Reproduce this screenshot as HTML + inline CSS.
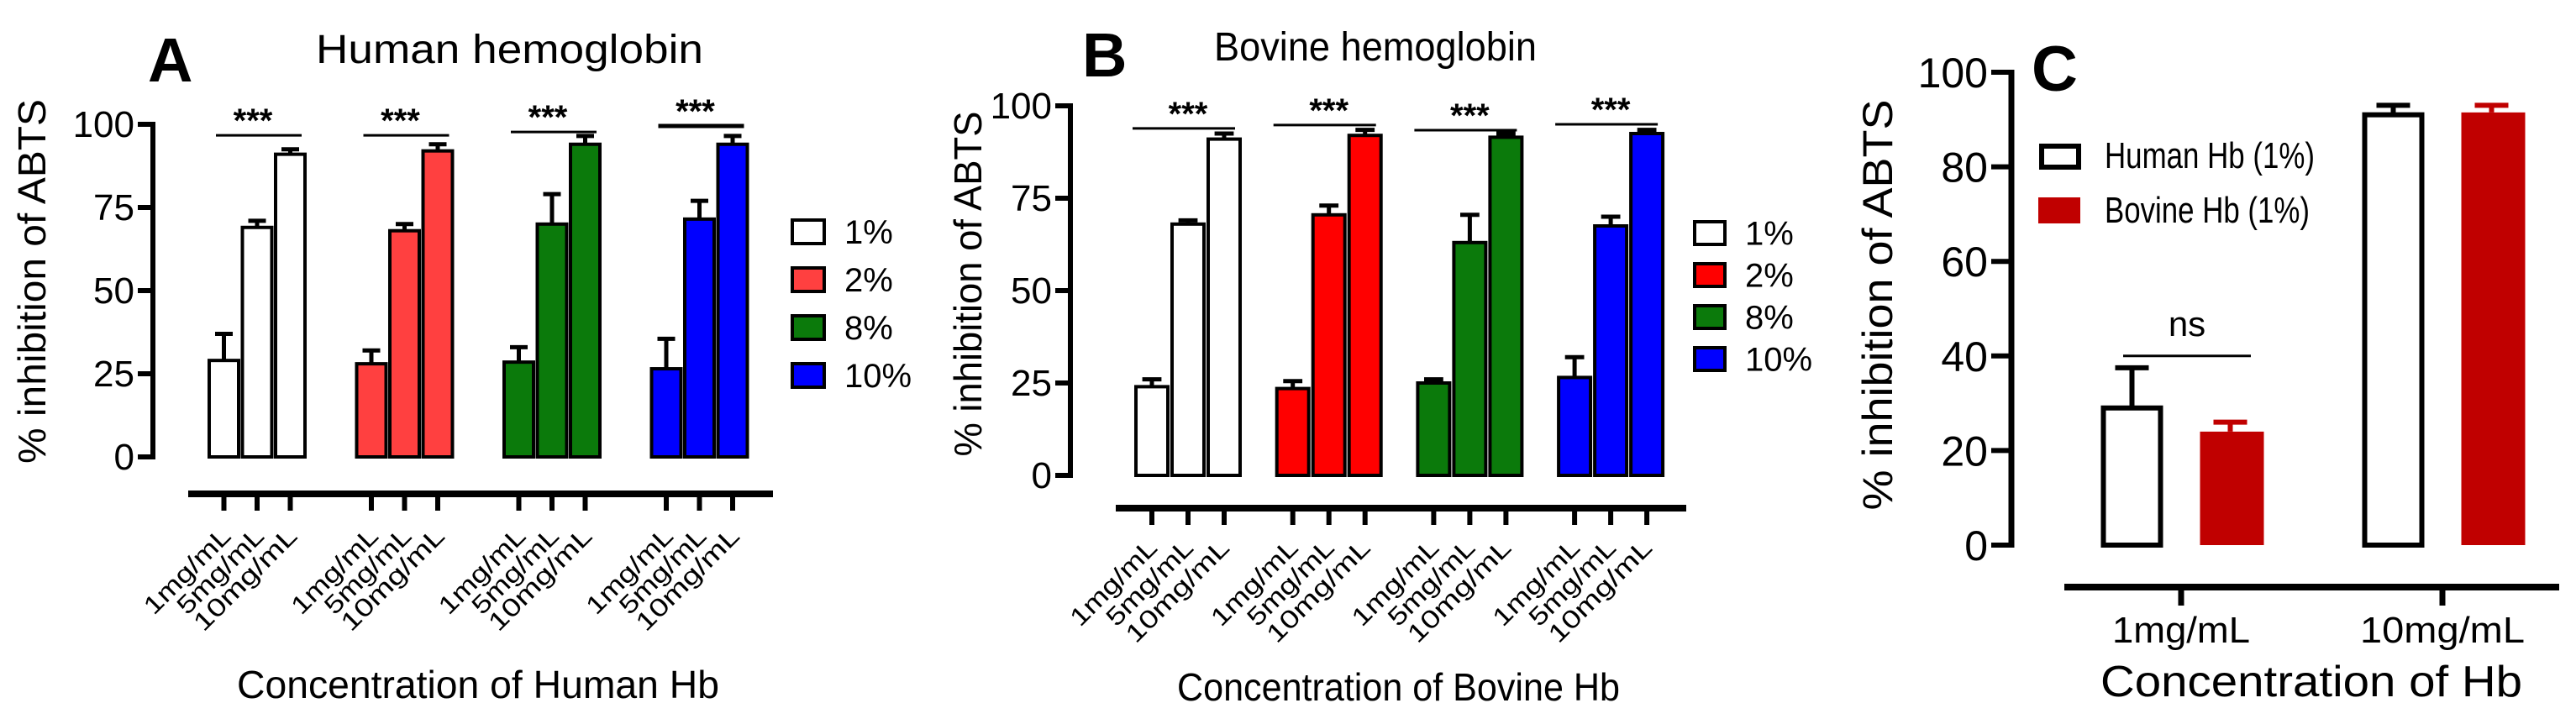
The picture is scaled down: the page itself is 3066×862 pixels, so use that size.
<!DOCTYPE html>
<html><head><meta charset="utf-8">
<style>
html,body{margin:0;padding:0;background:#fff;}
svg{display:block;font-family:"Liberation Sans",sans-serif;}
</style></head>
<body>
<svg id="fig" width="3066" height="862" viewBox="0 0 3066 862" xmlns="http://www.w3.org/2000/svg"></svg>
<script>
// ---- data ----
const groupLabels = ['1%','2%','8%','10%'];
const concLabels = ['1mg/mL','5mg/mL','10mg/mL'];
const abTicks = [0,25,50,75,100];
const cTicks = [0,20,40,60,80,100];
const aMeans = [[29,69,91],[28,68,92],[28.5,70,94],[26.5,71.5,94]];
const aErrs  = [[8,2,1.5],[4,2,2],[4.5,9,2.5],[9,5.5,2.5]];
const aSig   = [96.7,96.7,97.7,99.5];
const bMeans = [[24,68,91],[23.5,70.5,92],[25,63,91.5],[26.5,67.5,92.5]];
const bErrs  = [[2,1,1.5],[2,2.5,1.5],[1,7.5,1],[5.5,2.5,1]];
const bSig   = [93.9,94.8,93.4,95];
const cCats = ['1mg/mL','10mg/mL'];
const cSeries = ['Human Hb (1%)','Bovine Hb (1%)'];
const cHuman = [29,91];
const cHumanErr = [8.5,2];
const cBovine = [24,91.5];
const cBovineErr = [2,1.5];
const cSig = [40];

const NS='http://www.w3.org/2000/svg';
const svg=document.getElementById('fig');
function mk(tag,attrs,parent,text){
  const e=document.createElementNS(NS,tag);
  for(const k in attrs) e.setAttribute(k,attrs[k]);
  if(text!==undefined) e.textContent=text;
  (parent||svg).appendChild(e);
  return e;
}

function panelAB(cfg){
  const g=mk('g',{});
  
  
  const y=v=>cfg.y0-(cfg.y0-cfg.y100)*v/100;
  // panel letter & title
  let t=mk('text',{x:cfg.letterX,y:cfg.letterY,'font-size':74,'font-weight':'bold'},g,cfg.letter);
  
  
  t=mk('text',{x:cfg.titleX,y:cfg.titleY,'font-size':48,textLength:cfg.titleLen,lengthAdjust:'spacingAndGlyphs'},g,cfg.title);
  
  
  // y axis
  let l=mk('line',{x1:cfg.axX,x2:cfg.axX,y1:cfg.y100-3,y2:cfg.y0+3,stroke:'#000','stroke-width':6},g);
  
  
  abTicks.forEach(v=>{
    const tk=mk('line',{x1:cfg.axX-18,x2:cfg.axX,y1:y(v),y2:y(v),stroke:'#000','stroke-width':6},g);
    
    
    const tl=mk('text',{x:cfg.axX-22,y:y(v)+15,'font-size':44,'text-anchor':'end'},g,String(v));
    
    
  });
  t=mk('text',{x:0,y:0,'font-size':46,'text-anchor':'middle',textLength:cfg.ytLen,lengthAdjust:'spacingAndGlyphs',transform:`translate(${cfg.ytX},${cfg.ytY}) rotate(-90)`},g,'% inhibition of ABTS');
  
  
  // x axis
  l=mk('line',{x1:cfg.xaL,x2:cfg.xaR,y1:cfg.xaY,y2:cfg.xaY,stroke:'#000','stroke-width':8},g);
  
  
  cfg.means.forEach((grp,gi)=>{
    const gx=cfg.x0+gi*cfg.gp;
    grp.forEach((v,bi)=>{
      const bx=gx+bi*cfg.bp, cx=bx+cfg.bw/2;
      const top=y(v+cfg.errs[gi][bi]);
      const eb=mk('path',{d:`M${cx},${y(v)} V${top} M${cx-cfg.bw*0.3},${top} H${cx+cfg.bw*0.3}`,stroke:'#000','stroke-width':5,fill:'none'},g);
      
      
      const r=mk('rect',{x:bx,y:y(v),width:cfg.bw,height:cfg.y0-y(v),fill:cfg.colors[gi],stroke:'#000','stroke-width':4},g);
      
      
      const tk=mk('line',{x1:cx,x2:cx,y1:cfg.xaY,y2:cfg.xaY+20,stroke:'#000','stroke-width':6},g);
      
      
      const lx=cx+cfg.lblDx, ly=cfg.lblY;
      const tl=mk('text',{x:0,y:0,'font-size':30,'text-anchor':'end',textLength:cfg.lblLen[bi],lengthAdjust:'spacingAndGlyphs',transform:`translate(${lx},${ly}) rotate(-45)`},g,concLabels[bi]);
      
      
    });
    // significance
    const sy=y(cfg.sig[gi]);
    const sl=mk('line',{x1:gx+cfg.sigL,x2:gx+2*cfg.bp+cfg.bw+cfg.sigR,y1:sy,y2:sy,stroke:'#000','stroke-width':gi===3&&cfg.letter==='A'?5:3},g);
    
    
    const st=mk('text',{x:gx+cfg.bp+cfg.bw/2+cfg.starDx,y:sy-4,'font-size':40,'font-weight':'bold','text-anchor':'middle'},g,'***');
    
    
    // legend
    const lb=mk('rect',{x:cfg.legX,y:cfg.legY+gi*cfg.legDy,width:cfg.legW,height:cfg.legH,fill:cfg.colors[gi],stroke:'#000','stroke-width':4},g);
    
    
    const lt=mk('text',{x:cfg.legX+cfg.legW+24,y:cfg.legY+gi*cfg.legDy+cfg.legH/2+14,'font-size':40},g,groupLabels[gi]);
    
    
  });
  t=mk('text',{x:cfg.xtX,y:cfg.xtY,'font-size':46,textLength:cfg.xtLen,lengthAdjust:'spacingAndGlyphs'},g,cfg.xTitle);
  
  
}

panelAB({name:'panel-a-human',letter:'A',letterX:176,letterY:97,title:'Human hemoglobin',titleX:376,titleY:75,titleLen:461,
  axX:182,y0:544,y100:148,ytX:54,ytY:335,ytLen:434,
  xaL:224,xaR:920,xaY:588,x0:249,gp:175.5,bp:39.5,bw:35,
  means:aMeans,errs:aErrs,sig:aSig,sigL:8,sigR:-4,starDx:-5,
  colors:['#ffffff','#ff4040','#0b7a0b','#0000ff'],
  lblDx:10,lblY:640,lblLen:[132,132,160],
  legX:943,legY:262,legDy:57,legW:38,legH:28,
  xTitle:'Concentration of Human Hb',xtX:282,xtY:831,xtLen:574});

panelAB({name:'panel-b-bovine',letter:'B',letterX:1288,letterY:91,title:'Bovine hemoglobin',titleX:1445,titleY:72,titleLen:384,
  axX:1274,y0:566,y100:126,ytX:1168,ytY:338,ytLen:411,
  xaL:1328,xaR:2007,xaY:605,x0:1352,gp:167.7,bp:43,bw:38,
  means:bMeans,errs:bErrs,sig:bSig,sigL:-4,sigR:-6,starDx:0,
  colors:['#ffffff','#ff0000','#0b7a0b','#0000ff'],
  lblDx:8,lblY:654,lblLen:[132,132,160],
  legX:2017,legY:264,legDy:50,legW:36,legH:27,
  xTitle:'Concentration of Bovine Hb',xtX:1401,xtY:834,xtLen:527});

// ---- panel C ----
(function(){
  const g=mk('g',{});
  
  
  const y0=649,y100=86,axX=2394;
  const y=v=>y0-(y0-y100)*v/100;
  const catX=[2596,2907], off=58.5, bw=74;
  let t=mk('text',{x:2418,y:108,'font-size':76,'font-weight':'bold'},g,'C');
  
  
  let l=mk('line',{x1:axX,x2:axX,y1:y100-3,y2:y0+3,stroke:'#000','stroke-width':7},g);
  
  
  cTicks.forEach(v=>{
    const tk=mk('line',{x1:axX-24,x2:axX,y1:y(v),y2:y(v),stroke:'#000','stroke-width':6},g);
    
    
    const tl=mk('text',{x:2366,y:y(v)+18,'font-size':50,'text-anchor':'end'},g,String(v));
    
    
  });
  t=mk('text',{x:0,y:0,'font-size':50,'text-anchor':'middle',textLength:489,lengthAdjust:'spacingAndGlyphs',transform:'translate(2252,363) rotate(-90)'},g,'% inhibition of ABTS');
  
  
  l=mk('line',{x1:2457,x2:3046,y1:699,y2:699,stroke:'#000','stroke-width':8},g);
  
  
  cCats.forEach((c,i)=>{
    const cx=catX[i];
    const tk=mk('line',{x1:cx,x2:cx,y1:699,y2:721,stroke:'#000','stroke-width':7},g);
    
    
    const tl=mk('text',{x:cx,y:765,'font-size':44,'text-anchor':'middle',textLength:i?196:164,lengthAdjust:'spacingAndGlyphs'},g,c);
    
    
    // human
    let hx=cx-off, top=y(cHuman[i]+cHumanErr[i]);
    let eb=mk('path',{d:`M${hx},${y(cHuman[i])} V${top} M${hx-20},${top} H${hx+20}`,stroke:'#000','stroke-width':6,fill:'none'},g);
    
    
    let r=mk('rect',{x:hx-bw/2+3,y:y(cHuman[i]),width:bw-6,height:y0-y(cHuman[i]),fill:'#fff',stroke:'#000','stroke-width':6},g);
    
    
    let bx=cx+off; top=y(cBovine[i]+cBovineErr[i]);
    eb=mk('path',{d:`M${bx},${y(cBovine[i])} V${top} M${bx-20},${top} H${bx+20}`,stroke:'#c00000','stroke-width':6,fill:'none'},g);
    
    
    r=mk('rect',{x:bx-bw/2+1,y:y(cBovine[i]),width:bw+2,height:y0-y(cBovine[i]),fill:'#c00000'},g);
    
    
  });
  const sy=y(cSig[0]);
  l=mk('line',{x1:2527,x2:2679,y1:sy,y2:sy,stroke:'#000','stroke-width':3},g);
  
  
  t=mk('text',{x:2603,y:sy-24,'font-size':42,'text-anchor':'middle'},g,'ns');
  
  
  // legend
  let s=mk('rect',{x:2430,y:174,width:44,height:25,fill:'#fff',stroke:'#000','stroke-width':6},g);
  
  
  t=mk('text',{x:2505,y:200,'font-size':44,textLength:250,lengthAdjust:'spacingAndGlyphs'},g,cSeries[0]);
  
  
  s=mk('rect',{x:2426,y:235,width:50,height:31,fill:'#c00000'},g);
  
  
  t=mk('text',{x:2505,y:265,'font-size':44,textLength:244,lengthAdjust:'spacingAndGlyphs'},g,cSeries[1]);
  
  
  t=mk('text',{x:2500,y:829,'font-size':52,textLength:502,lengthAdjust:'spacingAndGlyphs'},g,'Concentration of Hb');
  
  
})();
</script>
</body></html>
